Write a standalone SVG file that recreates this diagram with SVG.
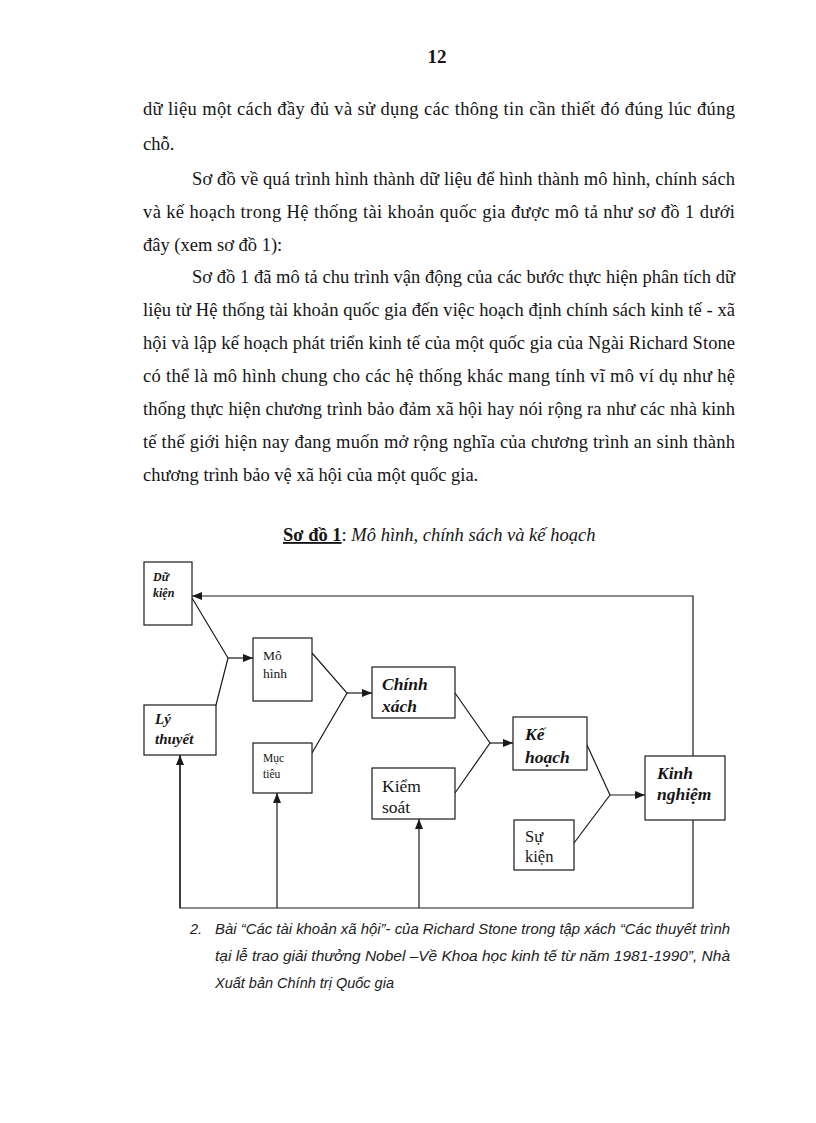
<svg xmlns="http://www.w3.org/2000/svg" width="816" height="1123" viewBox="0 0 816 1123">
<style>
  .body { font-family: "Liberation Serif", "Times New Roman", serif; font-size: 18.5px; fill: #151515; }
  .box { fill: #ffffff; stroke: #1a1a1a; stroke-width: 1.2; }
  .ln { fill: none; stroke: #1a1a1a; stroke-width: 1.2; }
  .bi { font-family: "Liberation Serif", serif; font-style: italic; font-weight: bold; fill: #151515; }
  .rg { font-family: "Liberation Serif", serif; fill: #151515; }
  .fn { font-family: "Liberation Sans Narrow", "Liberation Sans", sans-serif; font-style: italic; font-size: 14.5px; fill: #222; }
</style>
<defs>
  <marker id="arr" markerUnits="userSpaceOnUse" markerWidth="10" markerHeight="8" refX="10" refY="4" orient="auto">
    <path d="M0,0 L10,4 L0,8 z" fill="#1a1a1a"/>
  </marker>
</defs>
<rect width="816" height="1123" fill="#ffffff"/>

<g id="page-text">
  <text x="437" y="63" text-anchor="middle" font-family="Liberation Serif, serif" font-weight="bold" font-size="19" fill="#151515">12</text>
  <text class="body" x="143" y="115" textLength="592" lengthAdjust="spacing">dữ liệu một cách đầy đủ và sử dụng các thông tin cần thiết đó đúng lúc đúng</text>
  <text class="body" x="143" y="150">chỗ.</text>
  <text class="body" x="192" y="185" textLength="543" lengthAdjust="spacing">Sơ đồ về quá trình hình thành dữ liệu để hình thành mô hình, chính sách</text>
  <text class="body" x="143" y="218" textLength="592" lengthAdjust="spacing">và kế hoạch trong Hệ thống tài khoản quốc gia được mô tả như sơ đồ 1 dưới</text>
  <text class="body" x="143" y="251">đây (xem sơ đồ 1):</text>
  <text class="body" x="192" y="283" textLength="543" lengthAdjust="spacing">Sơ đồ 1 đã mô tả chu trình vận động của các bước thực hiện phân tích dữ</text>
  <text class="body" x="143" y="316" textLength="592" lengthAdjust="spacing">liệu từ Hệ thống tài khoản quốc gia đến việc hoạch định chính sách kinh tế - xã</text>
  <text class="body" x="143" y="349" textLength="592" lengthAdjust="spacing">hội và lập kế hoạch phát triển kinh tế của một quốc gia của Ngài Richard Stone</text>
  <text class="body" x="143" y="382" textLength="592" lengthAdjust="spacing">có thể là mô hình chung cho các hệ thống khác mang tính vĩ mô ví dụ như hệ</text>
  <text class="body" x="143" y="415" textLength="592" lengthAdjust="spacing">thống thực hiện chương trình bảo đảm xã hội hay nói rộng ra như các nhà kinh</text>
  <text class="body" x="143" y="448" textLength="592" lengthAdjust="spacing">tế thế giới hiện nay đang muốn mở rộng nghĩa của chương trình an sinh thành</text>
  <text class="body" x="143" y="481">chương trình bảo vệ xã hội của một quốc gia.</text>

  <text class="body" x="283" y="541" font-size="17.5"><tspan text-decoration="underline" font-weight="bold">Sơ đồ 1</tspan>: <tspan font-style="italic">Mô hình, chính sách và kế hoạch</tspan></text>

  <text class="fn" x="190" y="934">2.</text>
  <text class="fn" x="215" y="934" textLength="515" lengthAdjust="spacingAndGlyphs">Bài “Các tài khoản xã hội”- của Richard Stone trong tập xách “Các thuyết trình</text>
  <text class="fn" x="215" y="961" textLength="515" lengthAdjust="spacingAndGlyphs">tại lễ trao giải thưởng Nobel –Về Khoa học kinh tế từ năm 1981-1990”, Nhà</text>
  <text class="fn" x="215" y="988">Xuất bản Chính trị Quốc gia</text>
</g>

<g id="connectors">
  <polyline class="ln" points="180,755 180,908 693,908 693,820"/>
  <line class="ln" x1="277" y1="908" x2="277" y2="793" marker-end="url(#arr)"/>
  <line class="ln" x1="419" y1="908" x2="419" y2="819" marker-end="url(#arr)"/>
  <line class="ln" x1="180" y1="908" x2="180" y2="755" marker-end="url(#arr)"/>
  <polyline class="ln" points="693,756 693,596 192,596" marker-end="url(#arr)"/>
  <polyline class="ln" points="192,598 228,658 216,705"/>
  <line class="ln" x1="228" y1="658" x2="253" y2="658" marker-end="url(#arr)"/>
  <polyline class="ln" points="312,653 347,693 312,753"/>
  <line class="ln" x1="347" y1="693" x2="372" y2="693" marker-end="url(#arr)"/>
  <polyline class="ln" points="455,693 490,743 455,793"/>
  <line class="ln" x1="490" y1="743" x2="513" y2="743" marker-end="url(#arr)"/>
  <polyline class="ln" points="587,745 610,795 574,843"/>
  <line class="ln" x1="610" y1="795" x2="645" y2="795" marker-end="url(#arr)"/>
</g>

<g id="node-du-kien">
  <rect class="box" x="144" y="562" width="48" height="63"/>
  <text class="bi" font-size="12" x="153" y="581">Dữ</text>
  <text class="bi" font-size="12" x="153" y="597">kiện</text>
</g>
<g id="node-ly-thuyet">
  <rect class="box" x="144" y="705" width="72" height="50"/>
  <text class="bi" font-size="15" x="155" y="724">Lý</text>
  <text class="bi" font-size="15" x="155" y="744">thuyết</text>
</g>
<g id="node-mo-hinh">
  <rect class="box" x="253" y="638" width="59" height="63"/>
  <text class="rg" font-size="13.5" x="263" y="660">Mô</text>
  <text class="rg" font-size="13.5" x="263" y="678">hình</text>
</g>
<g id="node-muc-tieu">
  <rect class="box" x="253" y="743" width="59" height="50"/>
  <text class="rg" font-size="11.5" x="263" y="762">Mục</text>
  <text class="rg" font-size="11.5" x="263" y="778">tiêu</text>
</g>
<g id="node-chinh-xach">
  <rect class="box" x="372" y="667" width="83" height="51"/>
  <text class="bi" font-size="17.5" x="382" y="690">Chính</text>
  <text class="bi" font-size="17.5" x="382" y="712">xách</text>
</g>
<g id="node-kiem-soat">
  <rect class="box" x="372" y="768" width="83" height="51"/>
  <text class="rg" font-size="17.5" x="382" y="792">Kiểm</text>
  <text class="rg" font-size="17.5" x="382" y="813">soát</text>
</g>
<g id="node-ke-hoach">
  <rect class="box" x="513" y="717" width="74" height="53"/>
  <text class="bi" font-size="17.5" x="525" y="740">Kế</text>
  <text class="bi" font-size="17.5" x="525" y="763">hoạch</text>
</g>
<g id="node-su-kien">
  <rect class="box" x="514" y="820" width="60" height="50"/>
  <text class="rg" font-size="16.5" x="525" y="842">Sự</text>
  <text class="rg" font-size="16.5" x="525" y="862">kiện</text>
</g>
<g id="node-kinh-nghiem">
  <rect class="box" x="645" y="756" width="80" height="64"/>
  <text class="bi" font-size="17.5" x="657" y="779">Kinh</text>
  <text class="bi" font-size="17.5" x="657" y="800">nghiệm</text>
</g>
</svg>
